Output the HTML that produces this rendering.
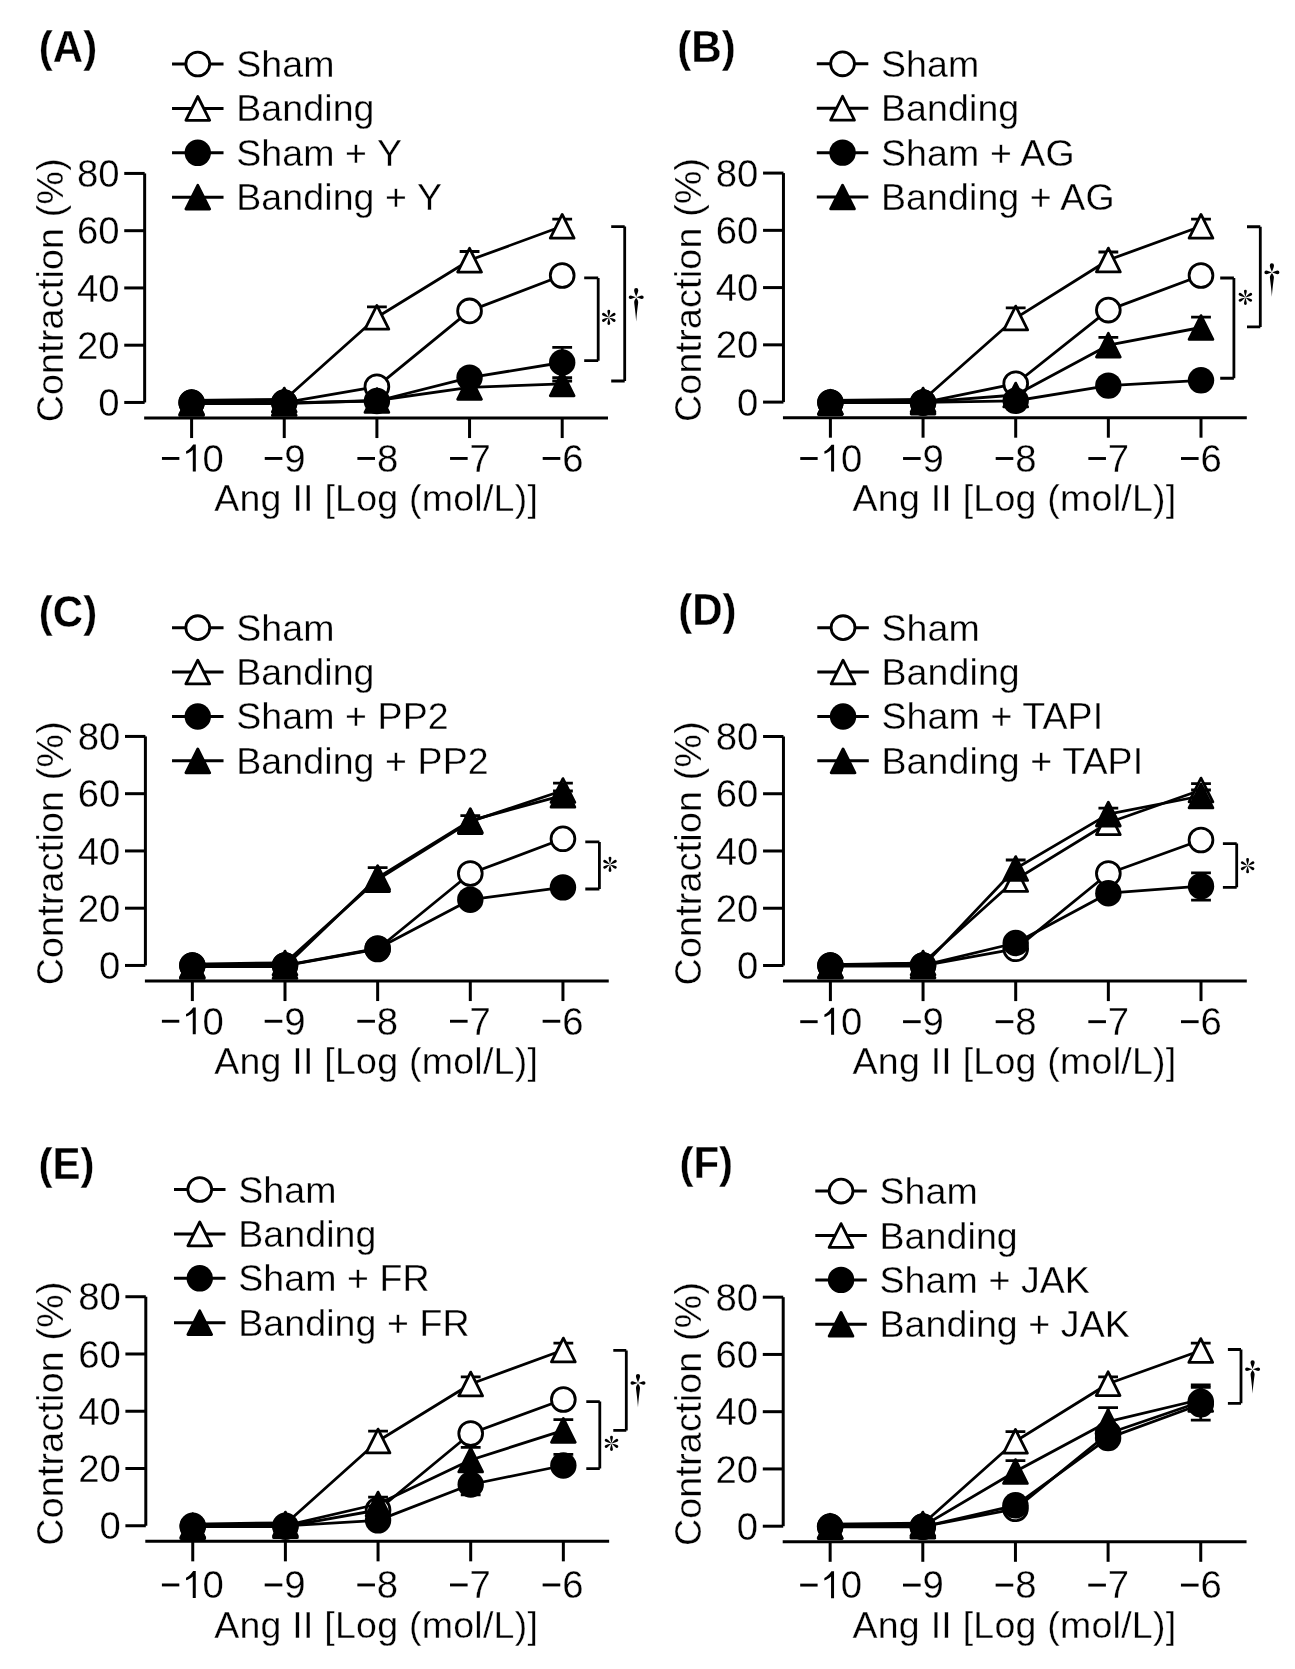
<!DOCTYPE html>
<html><head><meta charset="utf-8"><style>
html,body{margin:0;padding:0;background:#fff;}
body{width:1295px;height:1669px;overflow:hidden;}
svg{display:block;will-change:transform;}
text{font-family:"Liberation Sans",sans-serif;stroke:#fff;stroke-width:0.3px;}
</style></head><body>
<svg width="1295" height="1669" viewBox="0 0 1295 1669">
<rect width="1295" height="1669" fill="#fff"/>
<text transform="translate(38.8 61.5) scale(0.955 1)" font-weight="bold" font-size="44">(A)</text>
<path d="M172.03 64H223.53" stroke="#000" stroke-width="3"/>
<circle cx="197.78" cy="64" r="11.9" fill="#fff" stroke="#000" stroke-width="2.8"/>
<text x="236.23" y="77" font-size="37.5" letter-spacing="0.1">Sham</text>
<path d="M172.03 108.4H223.53" stroke="#000" stroke-width="3"/>
<path d="M197.78 96.5L209.68 120.3L185.88 120.3Z" fill="#fff" stroke="#000" stroke-width="2.8" stroke-linejoin="round"/>
<text x="236.23" y="121.4" font-size="37.5" letter-spacing="0.1">Banding</text>
<path d="M172.03 152.8H223.53" stroke="#000" stroke-width="3"/>
<circle cx="197.78" cy="152.8" r="13.2"/>
<text x="236.23" y="165.8" font-size="37.5" letter-spacing="0.1">Sham + Y</text>
<path d="M172.03 197.2H223.53" stroke="#000" stroke-width="3"/>
<path d="M197.78 185.3L209.68 209.1L185.88 209.1Z" fill="#000" stroke="#000" stroke-width="2.8" stroke-linejoin="round"/>
<text x="236.23" y="210.2" font-size="37.5" letter-spacing="0.1">Banding + Y</text>
<g transform="translate(0 0)">
<path d="M144.65 173.43V402.45" stroke="#000" stroke-width="3"/>
<path d="M124.25 402.45H144.65" stroke="#000" stroke-width="3"/>
<text x="119.6" y="416.05" text-anchor="end" font-size="38.3">0</text>
<path d="M124.25 345.19H144.65" stroke="#000" stroke-width="3"/>
<text x="119.6" y="358.8" text-anchor="end" font-size="38.3">20</text>
<path d="M124.25 287.94H144.65" stroke="#000" stroke-width="3"/>
<text x="119.6" y="301.54" text-anchor="end" font-size="38.3">40</text>
<path d="M124.25 230.69H144.65" stroke="#000" stroke-width="3"/>
<text x="119.6" y="244.28" text-anchor="end" font-size="38.3">60</text>
<path d="M124.25 173.43H144.65" stroke="#000" stroke-width="3"/>
<text x="119.6" y="187.03" text-anchor="end" font-size="38.3">80</text>
<text transform="translate(63.4 290.2) rotate(-90)" text-anchor="middle" font-size="37.5" letter-spacing="0.25">Contraction (%)</text>
<path d="M144.15 418.05H608" stroke="#000" stroke-width="3"/>
<path d="M191.6 418.05V438.05" stroke="#000" stroke-width="3"/>
<path d="M284.25 418.05V438.05" stroke="#000" stroke-width="3"/>
<path d="M376.9 418.05V438.05" stroke="#000" stroke-width="3"/>
<path d="M469.55 418.05V438.05" stroke="#000" stroke-width="3"/>
<path d="M562.2 418.05V438.05" stroke="#000" stroke-width="3"/>
<g transform="translate(0 0)">
<rect x="161.95" y="457" width="17.4" height="2.9"/>
<path d="M195.8 444.6V471.55H192.8V449.9C191 451.5 188.5 453 186.1 453.8V451.3C189 449.8 191.3 447.5 193.2 444.6Z"/>
<text x="202.6" y="471.8" font-size="38.3">0</text>
<rect x="264.75" y="457" width="17.6" height="2.9"/>
<text x="284.25" y="471.8" font-size="38.3">9</text>
<rect x="357.4" y="457" width="17.6" height="2.9"/>
<text x="376.9" y="471.8" font-size="38.3">8</text>
<rect x="450.05" y="457" width="17.6" height="2.9"/>
<text x="469.55" y="471.8" font-size="38.3">7</text>
<rect x="542.7" y="457" width="17.6" height="2.9"/>
<text x="562.2" y="471.8" font-size="38.3">6</text>
<text x="376.2" y="511.2" text-anchor="middle" font-size="37.5" letter-spacing="0.25">Ang II [Log (mol/L)]</text>
</g>
</g>
<g transform="translate(0 0)">
<path d="M191.6 400.3L284.25 399.4" stroke="#000" stroke-width="2.8"/>
<polyline points="191.6,402.6 284.25,402.6 376.9,386.7 469.55,310.9 562.2,275.5" fill="none" stroke="#000" stroke-width="2.8" stroke-linejoin="round"/>
<circle cx="191.6" cy="402.6" r="11.9" fill="#fff" stroke="#000" stroke-width="2.8"/>
<circle cx="284.25" cy="402.6" r="11.9" fill="#fff" stroke="#000" stroke-width="2.8"/>
<circle cx="376.9" cy="386.7" r="11.9" fill="#fff" stroke="#000" stroke-width="2.8"/>
<circle cx="469.55" cy="310.9" r="11.9" fill="#fff" stroke="#000" stroke-width="2.8"/>
<circle cx="562.2" cy="275.5" r="11.9" fill="#fff" stroke="#000" stroke-width="2.8"/>
<polyline points="191.6,402.6 284.25,400 376.9,317.3 469.55,260.2 562.2,226.3" fill="none" stroke="#000" stroke-width="2.8" stroke-linejoin="round"/>
<path d="M376.9 317.3V306.8 M367 306.8H386.8" stroke="#000" stroke-width="2.8" fill="none"/>
<path d="M469.55 260.2V251.5 M459.65 251.5H479.45" stroke="#000" stroke-width="2.8" fill="none"/>
<path d="M562.2 226.3V219.2 M552.3 219.2H572.1" stroke="#000" stroke-width="2.8" fill="none"/>
<path d="M191.6 390.7L203.5 414.5L179.7 414.5Z" fill="#fff" stroke="#000" stroke-width="2.8" stroke-linejoin="round"/>
<path d="M284.25 388.1L296.15 411.9L272.35 411.9Z" fill="#fff" stroke="#000" stroke-width="2.8" stroke-linejoin="round"/>
<path d="M376.9 305.4L388.8 329.2L365 329.2Z" fill="#fff" stroke="#000" stroke-width="2.8" stroke-linejoin="round"/>
<path d="M469.55 248.3L481.45 272.1L457.65 272.1Z" fill="#fff" stroke="#000" stroke-width="2.8" stroke-linejoin="round"/>
<path d="M562.2 214.4L574.1 238.2L550.3 238.2Z" fill="#fff" stroke="#000" stroke-width="2.8" stroke-linejoin="round"/>
<polyline points="191.6,402.8 284.25,402.8 376.9,401 469.55,377.6 562.2,362.5" fill="none" stroke="#000" stroke-width="2.8" stroke-linejoin="round"/>
<path d="M562.2 362.5V347.4 M552.3 347.4H572.1" stroke="#000" stroke-width="2.8" fill="none"/>
<path d="M562.2 362.5V377.6 M552.3 377.6H572.1" stroke="#000" stroke-width="2.8" fill="none"/>
<circle cx="191.6" cy="402.8" r="13.2"/>
<circle cx="284.25" cy="402.8" r="13.2"/>
<circle cx="376.9" cy="401" r="13.2"/>
<circle cx="469.55" cy="377.6" r="13.2"/>
<circle cx="562.2" cy="362.5" r="13.2"/>
<polyline points="191.6,403.5 284.25,403.5 376.9,400.5 469.55,387.4 562.2,383.9" fill="none" stroke="#000" stroke-width="2.8" stroke-linejoin="round"/>
<path d="M562.2 383.9V381 M552.3 381H572.1" stroke="#000" stroke-width="2.8" fill="none"/>
<path d="M191.6 391.6L203.5 415.4L179.7 415.4Z" fill="#000" stroke="#000" stroke-width="2.8" stroke-linejoin="round"/>
<path d="M284.25 391.6L296.15 415.4L272.35 415.4Z" fill="#000" stroke="#000" stroke-width="2.8" stroke-linejoin="round"/>
<path d="M376.9 388.6L388.8 412.4L365 412.4Z" fill="#000" stroke="#000" stroke-width="2.8" stroke-linejoin="round"/>
<path d="M469.55 375.5L481.45 399.3L457.65 399.3Z" fill="#000" stroke="#000" stroke-width="2.8" stroke-linejoin="round"/>
<path d="M562.2 372L574.1 395.8L550.3 395.8Z" fill="#000" stroke="#000" stroke-width="2.8" stroke-linejoin="round"/>
</g>
<g transform="translate(0 0)">
<path d="M584.2 277.9H598.2 M598.2 277.9V360.7 M584.2 360.7H598.2" fill="none" stroke="#000" stroke-width="2.8"/>
<g transform="translate(608.8 317.4)"><path transform="rotate(0)" d="M0 -0.2C-0.5 -2.2 -1.4 -4.6 -1.4 -6.2A1.4 1.4 0 0 1 1.4 -6.2C1.4 -4.6 0.5 -2.2 0 -0.2Z"/><path transform="rotate(60)" d="M0 -0.2C-0.5 -2.2 -1.4 -4.6 -1.4 -6.2A1.4 1.4 0 0 1 1.4 -6.2C1.4 -4.6 0.5 -2.2 0 -0.2Z"/><path transform="rotate(120)" d="M0 -0.2C-0.5 -2.2 -1.4 -4.6 -1.4 -6.2A1.4 1.4 0 0 1 1.4 -6.2C1.4 -4.6 0.5 -2.2 0 -0.2Z"/><path transform="rotate(180)" d="M0 -0.2C-0.5 -2.2 -1.4 -4.6 -1.4 -6.2A1.4 1.4 0 0 1 1.4 -6.2C1.4 -4.6 0.5 -2.2 0 -0.2Z"/><path transform="rotate(240)" d="M0 -0.2C-0.5 -2.2 -1.4 -4.6 -1.4 -6.2A1.4 1.4 0 0 1 1.4 -6.2C1.4 -4.6 0.5 -2.2 0 -0.2Z"/><path transform="rotate(300)" d="M0 -0.2C-0.5 -2.2 -1.4 -4.6 -1.4 -6.2A1.4 1.4 0 0 1 1.4 -6.2C1.4 -4.6 0.5 -2.2 0 -0.2Z"/></g>
<path d="M611.2 226.6H624.7 M624.7 226.6V381 M611.2 381H624.7" fill="none" stroke="#000" stroke-width="2.8"/>
<g transform="translate(636.2 297.2)"><path d="M0 -0.3C-0.6 -2.5 -2.1 -5.2 -2.1 -7.0A2.1 2.1 0 0 1 2.1 -7.0C2.1 -5.2 0.6 -2.5 0 -0.3Z"/><path transform="rotate(90)" d="M0 -0.3C-0.5 -2.2 -1.8 -4.3 -1.8 -5.7A1.8 1.8 0 0 1 1.8 -5.7C1.8 -4.3 0.5 -2.2 0 -0.3Z"/><path transform="rotate(-90)" d="M0 -0.3C-0.5 -2.2 -1.8 -4.3 -1.8 -5.7A1.8 1.8 0 0 1 1.8 -5.7C1.8 -4.3 0.5 -2.2 0 -0.3Z"/><path d="M0 0.6C-1.2 2.2 -2.1 3.6 -2.0 5.2C-1.7 8.5 -0.4 17 0 24.5C0.4 17 1.7 8.5 2.0 5.2C2.1 3.6 1.2 2.2 0 0.6Z"/></g>
</g>
<text transform="translate(677.3 61.5) scale(0.955 1)" font-weight="bold" font-size="44">(B)</text>
<path d="M816.8 63.83H868.3" stroke="#000" stroke-width="3"/>
<circle cx="842.55" cy="63.83" r="11.9" fill="#fff" stroke="#000" stroke-width="2.8"/>
<text x="881" y="76.83" font-size="37.5" letter-spacing="0.1">Sham</text>
<path d="M816.8 108.23H868.3" stroke="#000" stroke-width="3"/>
<path d="M842.55 96.33L854.45 120.13L830.65 120.13Z" fill="#fff" stroke="#000" stroke-width="2.8" stroke-linejoin="round"/>
<text x="881" y="121.23" font-size="37.5" letter-spacing="0.1">Banding</text>
<path d="M816.8 152.63H868.3" stroke="#000" stroke-width="3"/>
<circle cx="842.55" cy="152.63" r="13.2"/>
<text x="881" y="165.63" font-size="37.5" letter-spacing="0.1">Sham + AG</text>
<path d="M816.8 197.03H868.3" stroke="#000" stroke-width="3"/>
<path d="M842.55 185.13L854.45 208.93L830.65 208.93Z" fill="#000" stroke="#000" stroke-width="2.8" stroke-linejoin="round"/>
<text x="881" y="210.03" font-size="37.5" letter-spacing="0.1">Banding + AG</text>
<g transform="translate(638.8 -0.35)">
<path d="M144.65 173.43V402.45" stroke="#000" stroke-width="3"/>
<path d="M124.25 402.45H144.65" stroke="#000" stroke-width="3"/>
<text x="119.6" y="416.05" text-anchor="end" font-size="38.3">0</text>
<path d="M124.25 345.19H144.65" stroke="#000" stroke-width="3"/>
<text x="119.6" y="358.8" text-anchor="end" font-size="38.3">20</text>
<path d="M124.25 287.94H144.65" stroke="#000" stroke-width="3"/>
<text x="119.6" y="301.54" text-anchor="end" font-size="38.3">40</text>
<path d="M124.25 230.69H144.65" stroke="#000" stroke-width="3"/>
<text x="119.6" y="244.28" text-anchor="end" font-size="38.3">60</text>
<path d="M124.25 173.43H144.65" stroke="#000" stroke-width="3"/>
<text x="119.6" y="187.03" text-anchor="end" font-size="38.3">80</text>
<text transform="translate(62.4 290.2) rotate(-90)" text-anchor="middle" font-size="37.5" letter-spacing="0.25">Contraction (%)</text>
<path d="M144.15 418.05H608" stroke="#000" stroke-width="3"/>
<path d="M191.6 418.05V438.05" stroke="#000" stroke-width="3"/>
<path d="M284.25 418.05V438.05" stroke="#000" stroke-width="3"/>
<path d="M376.9 418.05V438.05" stroke="#000" stroke-width="3"/>
<path d="M469.55 418.05V438.05" stroke="#000" stroke-width="3"/>
<path d="M562.2 418.05V438.05" stroke="#000" stroke-width="3"/>
<g transform="translate(-0.5 0.4)">
<rect x="161.95" y="457" width="17.4" height="2.9"/>
<path d="M195.8 444.6V471.55H192.8V449.9C191 451.5 188.5 453 186.1 453.8V451.3C189 449.8 191.3 447.5 193.2 444.6Z"/>
<text x="202.6" y="471.8" font-size="38.3">0</text>
<rect x="264.75" y="457" width="17.6" height="2.9"/>
<text x="284.25" y="471.8" font-size="38.3">9</text>
<rect x="357.4" y="457" width="17.6" height="2.9"/>
<text x="376.9" y="471.8" font-size="38.3">8</text>
<rect x="450.05" y="457" width="17.6" height="2.9"/>
<text x="469.55" y="471.8" font-size="38.3">7</text>
<rect x="542.7" y="457" width="17.6" height="2.9"/>
<text x="562.2" y="471.8" font-size="38.3">6</text>
<text x="376.2" y="511.2" text-anchor="middle" font-size="37.5" letter-spacing="0.25">Ang II [Log (mol/L)]</text>
</g>
</g>
<g transform="translate(0 0)">
<path d="M830.4 400.3L923.05 399.4" stroke="#000" stroke-width="2.8"/>
<polyline points="830.4,402.6 923.05,402.6 1015.7,383.7 1108.35,310.1 1201,275.5" fill="none" stroke="#000" stroke-width="2.8" stroke-linejoin="round"/>
<circle cx="830.4" cy="402.6" r="11.9" fill="#fff" stroke="#000" stroke-width="2.8"/>
<circle cx="923.05" cy="402.6" r="11.9" fill="#fff" stroke="#000" stroke-width="2.8"/>
<circle cx="1015.7" cy="383.7" r="11.9" fill="#fff" stroke="#000" stroke-width="2.8"/>
<circle cx="1108.35" cy="310.1" r="11.9" fill="#fff" stroke="#000" stroke-width="2.8"/>
<circle cx="1201" cy="275.5" r="11.9" fill="#fff" stroke="#000" stroke-width="2.8"/>
<polyline points="830.4,402.6 923.05,400 1015.7,318 1108.35,260 1201,226.3" fill="none" stroke="#000" stroke-width="2.8" stroke-linejoin="round"/>
<path d="M1015.7 318V307.8 M1005.8 307.8H1025.6" stroke="#000" stroke-width="2.8" fill="none"/>
<path d="M1108.35 260V252 M1098.45 252H1118.25" stroke="#000" stroke-width="2.8" fill="none"/>
<path d="M1201 226.3V219.2 M1191.1 219.2H1210.9" stroke="#000" stroke-width="2.8" fill="none"/>
<path d="M830.4 390.7L842.3 414.5L818.5 414.5Z" fill="#fff" stroke="#000" stroke-width="2.8" stroke-linejoin="round"/>
<path d="M923.05 388.1L934.95 411.9L911.15 411.9Z" fill="#fff" stroke="#000" stroke-width="2.8" stroke-linejoin="round"/>
<path d="M1015.7 306.1L1027.6 329.9L1003.8 329.9Z" fill="#fff" stroke="#000" stroke-width="2.8" stroke-linejoin="round"/>
<path d="M1108.35 248.1L1120.25 271.9L1096.45 271.9Z" fill="#fff" stroke="#000" stroke-width="2.8" stroke-linejoin="round"/>
<path d="M1201 214.4L1212.9 238.2L1189.1 238.2Z" fill="#fff" stroke="#000" stroke-width="2.8" stroke-linejoin="round"/>
<polyline points="830.4,402.4 923.05,402.4 1015.7,400.8 1108.35,385.6 1201,380.3" fill="none" stroke="#000" stroke-width="2.8" stroke-linejoin="round"/>
<circle cx="830.4" cy="402.4" r="13.2"/>
<circle cx="923.05" cy="402.4" r="13.2"/>
<circle cx="1015.7" cy="400.8" r="13.2"/>
<circle cx="1108.35" cy="385.6" r="13.2"/>
<circle cx="1201" cy="380.3" r="13.2"/>
<polyline points="830.4,402.1 923.05,402.1 1015.7,395 1108.35,345.2 1201,327.5" fill="none" stroke="#000" stroke-width="2.8" stroke-linejoin="round"/>
<path d="M1108.35 345.2V337.3 M1098.45 337.3H1118.25" stroke="#000" stroke-width="2.8" fill="none"/>
<path d="M1201 327.5V317.2 M1191.1 317.2H1210.9" stroke="#000" stroke-width="2.8" fill="none"/>
<path d="M830.4 390.2L842.3 414L818.5 414Z" fill="#000" stroke="#000" stroke-width="2.8" stroke-linejoin="round"/>
<path d="M923.05 390.2L934.95 414L911.15 414Z" fill="#000" stroke="#000" stroke-width="2.8" stroke-linejoin="round"/>
<path d="M1015.7 383.1L1027.6 406.9L1003.8 406.9Z" fill="#000" stroke="#000" stroke-width="2.8" stroke-linejoin="round"/>
<path d="M1108.35 333.3L1120.25 357.1L1096.45 357.1Z" fill="#000" stroke="#000" stroke-width="2.8" stroke-linejoin="round"/>
<path d="M1201 315.6L1212.9 339.4L1189.1 339.4Z" fill="#000" stroke="#000" stroke-width="2.8" stroke-linejoin="round"/>
</g>
<g transform="translate(638.4 0)">
<path d="M581.8 278H595.5 M595.5 278V378.25 M581.8 378.25H595.5" fill="none" stroke="#000" stroke-width="2.8"/>
<g transform="translate(607 297.3)"><path transform="rotate(0)" d="M0 -0.2C-0.5 -2.2 -1.4 -4.6 -1.4 -6.2A1.4 1.4 0 0 1 1.4 -6.2C1.4 -4.6 0.5 -2.2 0 -0.2Z"/><path transform="rotate(60)" d="M0 -0.2C-0.5 -2.2 -1.4 -4.6 -1.4 -6.2A1.4 1.4 0 0 1 1.4 -6.2C1.4 -4.6 0.5 -2.2 0 -0.2Z"/><path transform="rotate(120)" d="M0 -0.2C-0.5 -2.2 -1.4 -4.6 -1.4 -6.2A1.4 1.4 0 0 1 1.4 -6.2C1.4 -4.6 0.5 -2.2 0 -0.2Z"/><path transform="rotate(180)" d="M0 -0.2C-0.5 -2.2 -1.4 -4.6 -1.4 -6.2A1.4 1.4 0 0 1 1.4 -6.2C1.4 -4.6 0.5 -2.2 0 -0.2Z"/><path transform="rotate(240)" d="M0 -0.2C-0.5 -2.2 -1.4 -4.6 -1.4 -6.2A1.4 1.4 0 0 1 1.4 -6.2C1.4 -4.6 0.5 -2.2 0 -0.2Z"/><path transform="rotate(300)" d="M0 -0.2C-0.5 -2.2 -1.4 -4.6 -1.4 -6.2A1.4 1.4 0 0 1 1.4 -6.2C1.4 -4.6 0.5 -2.2 0 -0.2Z"/></g>
<path d="M608.6 226.75H621.9 M621.9 226.75V326.9 M608.6 326.9H621.9" fill="none" stroke="#000" stroke-width="2.8"/>
<g transform="translate(633.5 272.4)"><path d="M0 -0.3C-0.6 -2.5 -2.1 -5.2 -2.1 -7.0A2.1 2.1 0 0 1 2.1 -7.0C2.1 -5.2 0.6 -2.5 0 -0.3Z"/><path transform="rotate(90)" d="M0 -0.3C-0.5 -2.2 -1.8 -4.3 -1.8 -5.7A1.8 1.8 0 0 1 1.8 -5.7C1.8 -4.3 0.5 -2.2 0 -0.3Z"/><path transform="rotate(-90)" d="M0 -0.3C-0.5 -2.2 -1.8 -4.3 -1.8 -5.7A1.8 1.8 0 0 1 1.8 -5.7C1.8 -4.3 0.5 -2.2 0 -0.3Z"/><path d="M0 0.6C-1.2 2.2 -2.1 3.6 -2.0 5.2C-1.7 8.5 -0.4 17 0 24.5C0.4 17 1.7 8.5 2.0 5.2C2.1 3.6 1.2 2.2 0 0.6Z"/></g>
</g>
<text transform="translate(38.8 626.5) scale(0.955 1)" font-weight="bold" font-size="44">(C)</text>
<path d="M172.03 627.67H223.53" stroke="#000" stroke-width="3"/>
<circle cx="197.78" cy="627.67" r="11.9" fill="#fff" stroke="#000" stroke-width="2.8"/>
<text x="236.23" y="640.67" font-size="37.5" letter-spacing="0.1">Sham</text>
<path d="M172.03 672.07H223.53" stroke="#000" stroke-width="3"/>
<path d="M197.78 660.17L209.68 683.97L185.88 683.97Z" fill="#fff" stroke="#000" stroke-width="2.8" stroke-linejoin="round"/>
<text x="236.23" y="685.07" font-size="37.5" letter-spacing="0.1">Banding</text>
<path d="M172.03 716.47H223.53" stroke="#000" stroke-width="3"/>
<circle cx="197.78" cy="716.47" r="13.2"/>
<text x="236.23" y="729.47" font-size="37.5" letter-spacing="0.1">Sham + PP2</text>
<path d="M172.03 760.87H223.53" stroke="#000" stroke-width="3"/>
<path d="M197.78 748.97L209.68 772.77L185.88 772.77Z" fill="#000" stroke="#000" stroke-width="2.8" stroke-linejoin="round"/>
<text x="236.23" y="773.87" font-size="37.5" letter-spacing="0.1">Banding + PP2</text>
<g transform="translate(0.75 563)">
<path d="M144.65 173.43V402.45" stroke="#000" stroke-width="3"/>
<path d="M124.25 402.45H144.65" stroke="#000" stroke-width="3"/>
<text x="119.6" y="416.05" text-anchor="end" font-size="38.3">0</text>
<path d="M124.25 345.19H144.65" stroke="#000" stroke-width="3"/>
<text x="119.6" y="358.8" text-anchor="end" font-size="38.3">20</text>
<path d="M124.25 287.94H144.65" stroke="#000" stroke-width="3"/>
<text x="119.6" y="301.54" text-anchor="end" font-size="38.3">40</text>
<path d="M124.25 230.69H144.65" stroke="#000" stroke-width="3"/>
<text x="119.6" y="244.28" text-anchor="end" font-size="38.3">60</text>
<path d="M124.25 173.43H144.65" stroke="#000" stroke-width="3"/>
<text x="119.6" y="187.03" text-anchor="end" font-size="38.3">80</text>
<text transform="translate(62.4 290.2) rotate(-90)" text-anchor="middle" font-size="37.5" letter-spacing="0.25">Contraction (%)</text>
<path d="M144.15 418.05H608" stroke="#000" stroke-width="3"/>
<path d="M191.6 418.05V438.05" stroke="#000" stroke-width="3"/>
<path d="M284.25 418.05V438.05" stroke="#000" stroke-width="3"/>
<path d="M376.9 418.05V438.05" stroke="#000" stroke-width="3"/>
<path d="M469.55 418.05V438.05" stroke="#000" stroke-width="3"/>
<path d="M562.2 418.05V438.05" stroke="#000" stroke-width="3"/>
<g transform="translate(-0.8 -0.2)">
<rect x="161.95" y="457" width="17.4" height="2.9"/>
<path d="M195.8 444.6V471.55H192.8V449.9C191 451.5 188.5 453 186.1 453.8V451.3C189 449.8 191.3 447.5 193.2 444.6Z"/>
<text x="202.6" y="471.8" font-size="38.3">0</text>
<rect x="264.75" y="457" width="17.6" height="2.9"/>
<text x="284.25" y="471.8" font-size="38.3">9</text>
<rect x="357.4" y="457" width="17.6" height="2.9"/>
<text x="376.9" y="471.8" font-size="38.3">8</text>
<rect x="450.05" y="457" width="17.6" height="2.9"/>
<text x="469.55" y="471.8" font-size="38.3">7</text>
<rect x="542.7" y="457" width="17.6" height="2.9"/>
<text x="562.2" y="471.8" font-size="38.3">6</text>
<text x="376.2" y="511.2" text-anchor="middle" font-size="37.5" letter-spacing="0.25">Ang II [Log (mol/L)]</text>
</g>
</g>
<g transform="translate(0 563)">
<path d="M192.35 401.2L285 399.8" stroke="#000" stroke-width="2.8"/>
<polyline points="192.35,402.6 285,402.6 377.65,386 470.3,310.5 562.95,275.8" fill="none" stroke="#000" stroke-width="2.8" stroke-linejoin="round"/>
<circle cx="192.35" cy="402.6" r="11.9" fill="#fff" stroke="#000" stroke-width="2.8"/>
<circle cx="285" cy="402.6" r="11.9" fill="#fff" stroke="#000" stroke-width="2.8"/>
<circle cx="377.65" cy="386" r="11.9" fill="#fff" stroke="#000" stroke-width="2.8"/>
<circle cx="470.3" cy="310.5" r="11.9" fill="#fff" stroke="#000" stroke-width="2.8"/>
<circle cx="562.95" cy="275.8" r="11.9" fill="#fff" stroke="#000" stroke-width="2.8"/>
<polyline points="192.35,402.6 285,400 377.65,316.6 470.3,258.6 562.95,227.5" fill="none" stroke="#000" stroke-width="2.8" stroke-linejoin="round"/>
<path d="M377.65 316.6V304.7 M367.75 304.7H387.55" stroke="#000" stroke-width="2.8" fill="none"/>
<path d="M470.3 258.6V252.6 M460.4 252.6H480.2" stroke="#000" stroke-width="2.8" fill="none"/>
<path d="M562.95 227.5V220.2 M553.05 220.2H572.85" stroke="#000" stroke-width="2.8" fill="none"/>
<path d="M192.35 390.7L204.25 414.5L180.45 414.5Z" fill="#fff" stroke="#000" stroke-width="2.8" stroke-linejoin="round"/>
<path d="M285 388.1L296.9 411.9L273.1 411.9Z" fill="#fff" stroke="#000" stroke-width="2.8" stroke-linejoin="round"/>
<path d="M377.65 304.7L389.55 328.5L365.75 328.5Z" fill="#fff" stroke="#000" stroke-width="2.8" stroke-linejoin="round"/>
<path d="M470.3 246.7L482.2 270.5L458.4 270.5Z" fill="#fff" stroke="#000" stroke-width="2.8" stroke-linejoin="round"/>
<path d="M562.95 215.6L574.85 239.4L551.05 239.4Z" fill="#fff" stroke="#000" stroke-width="2.8" stroke-linejoin="round"/>
<polyline points="192.35,402.4 285,402.4 377.65,385.5 470.3,336.7 562.95,324.4" fill="none" stroke="#000" stroke-width="2.8" stroke-linejoin="round"/>
<circle cx="192.35" cy="402.4" r="13.2"/>
<circle cx="285" cy="402.4" r="13.2"/>
<circle cx="377.65" cy="385.5" r="13.2"/>
<circle cx="470.3" cy="336.7" r="13.2"/>
<circle cx="562.95" cy="324.4" r="13.2"/>
<polyline points="192.35,403.5 285,403.5 377.65,314.6 470.3,257.6 562.95,232.3" fill="none" stroke="#000" stroke-width="2.8" stroke-linejoin="round"/>
<path d="M562.95 232.3V228 M553.05 228H572.85" stroke="#000" stroke-width="2.8" fill="none"/>
<path d="M192.35 391.6L204.25 415.4L180.45 415.4Z" fill="#000" stroke="#000" stroke-width="2.8" stroke-linejoin="round"/>
<path d="M285 391.6L296.9 415.4L273.1 415.4Z" fill="#000" stroke="#000" stroke-width="2.8" stroke-linejoin="round"/>
<path d="M377.65 302.7L389.55 326.5L365.75 326.5Z" fill="#000" stroke="#000" stroke-width="2.8" stroke-linejoin="round"/>
<path d="M470.3 245.7L482.2 269.5L458.4 269.5Z" fill="#000" stroke="#000" stroke-width="2.8" stroke-linejoin="round"/>
<path d="M562.95 220.4L574.85 244.2L551.05 244.2Z" fill="#000" stroke="#000" stroke-width="2.8" stroke-linejoin="round"/>
</g>
<g transform="translate(0 563)">
<path d="M585.3 278.9H599.4 M599.4 278.9V326 M585.3 326H599.4" fill="none" stroke="#000" stroke-width="2.8"/>
<g transform="translate(610 301.3)"><path transform="rotate(0)" d="M0 -0.2C-0.5 -2.2 -1.4 -4.6 -1.4 -6.2A1.4 1.4 0 0 1 1.4 -6.2C1.4 -4.6 0.5 -2.2 0 -0.2Z"/><path transform="rotate(60)" d="M0 -0.2C-0.5 -2.2 -1.4 -4.6 -1.4 -6.2A1.4 1.4 0 0 1 1.4 -6.2C1.4 -4.6 0.5 -2.2 0 -0.2Z"/><path transform="rotate(120)" d="M0 -0.2C-0.5 -2.2 -1.4 -4.6 -1.4 -6.2A1.4 1.4 0 0 1 1.4 -6.2C1.4 -4.6 0.5 -2.2 0 -0.2Z"/><path transform="rotate(180)" d="M0 -0.2C-0.5 -2.2 -1.4 -4.6 -1.4 -6.2A1.4 1.4 0 0 1 1.4 -6.2C1.4 -4.6 0.5 -2.2 0 -0.2Z"/><path transform="rotate(240)" d="M0 -0.2C-0.5 -2.2 -1.4 -4.6 -1.4 -6.2A1.4 1.4 0 0 1 1.4 -6.2C1.4 -4.6 0.5 -2.2 0 -0.2Z"/><path transform="rotate(300)" d="M0 -0.2C-0.5 -2.2 -1.4 -4.6 -1.4 -6.2A1.4 1.4 0 0 1 1.4 -6.2C1.4 -4.6 0.5 -2.2 0 -0.2Z"/></g>
</g>
<text transform="translate(678.2 624.9) scale(0.955 1)" font-weight="bold" font-size="44">(D)</text>
<path d="M817.3 627.67H868.8" stroke="#000" stroke-width="3"/>
<circle cx="843.05" cy="627.67" r="11.9" fill="#fff" stroke="#000" stroke-width="2.8"/>
<text x="881.5" y="640.67" font-size="37.5" letter-spacing="0.1">Sham</text>
<path d="M817.3 672.07H868.8" stroke="#000" stroke-width="3"/>
<path d="M843.05 660.17L854.95 683.97L831.15 683.97Z" fill="#fff" stroke="#000" stroke-width="2.8" stroke-linejoin="round"/>
<text x="881.5" y="685.07" font-size="37.5" letter-spacing="0.1">Banding</text>
<path d="M817.3 716.47H868.8" stroke="#000" stroke-width="3"/>
<circle cx="843.05" cy="716.47" r="13.2"/>
<text x="881.5" y="729.47" font-size="37.5" letter-spacing="0.1">Sham + TAPI</text>
<path d="M817.3 760.87H868.8" stroke="#000" stroke-width="3"/>
<path d="M843.05 748.97L854.95 772.77L831.15 772.77Z" fill="#000" stroke="#000" stroke-width="2.8" stroke-linejoin="round"/>
<text x="881.5" y="773.87" font-size="37.5" letter-spacing="0.1">Banding + TAPI</text>
<g transform="translate(638.8 563.05)">
<path d="M144.65 173.43V402.45" stroke="#000" stroke-width="3"/>
<path d="M124.25 402.45H144.65" stroke="#000" stroke-width="3"/>
<text x="119.6" y="416.05" text-anchor="end" font-size="38.3">0</text>
<path d="M124.25 345.19H144.65" stroke="#000" stroke-width="3"/>
<text x="119.6" y="358.8" text-anchor="end" font-size="38.3">20</text>
<path d="M124.25 287.94H144.65" stroke="#000" stroke-width="3"/>
<text x="119.6" y="301.54" text-anchor="end" font-size="38.3">40</text>
<path d="M124.25 230.69H144.65" stroke="#000" stroke-width="3"/>
<text x="119.6" y="244.28" text-anchor="end" font-size="38.3">60</text>
<path d="M124.25 173.43H144.65" stroke="#000" stroke-width="3"/>
<text x="119.6" y="187.03" text-anchor="end" font-size="38.3">80</text>
<text transform="translate(62.4 290.2) rotate(-90)" text-anchor="middle" font-size="37.5" letter-spacing="0.25">Contraction (%)</text>
<path d="M144.15 418.05H608" stroke="#000" stroke-width="3"/>
<path d="M191.6 418.05V438.05" stroke="#000" stroke-width="3"/>
<path d="M284.25 418.05V438.05" stroke="#000" stroke-width="3"/>
<path d="M376.9 418.05V438.05" stroke="#000" stroke-width="3"/>
<path d="M469.55 418.05V438.05" stroke="#000" stroke-width="3"/>
<path d="M562.2 418.05V438.05" stroke="#000" stroke-width="3"/>
<g transform="translate(-0.5 0.2)">
<rect x="161.95" y="457" width="17.4" height="2.9"/>
<path d="M195.8 444.6V471.55H192.8V449.9C191 451.5 188.5 453 186.1 453.8V451.3C189 449.8 191.3 447.5 193.2 444.6Z"/>
<text x="202.6" y="471.8" font-size="38.3">0</text>
<rect x="264.75" y="457" width="17.6" height="2.9"/>
<text x="284.25" y="471.8" font-size="38.3">9</text>
<rect x="357.4" y="457" width="17.6" height="2.9"/>
<text x="376.9" y="471.8" font-size="38.3">8</text>
<rect x="450.05" y="457" width="17.6" height="2.9"/>
<text x="469.55" y="471.8" font-size="38.3">7</text>
<rect x="542.7" y="457" width="17.6" height="2.9"/>
<text x="562.2" y="471.8" font-size="38.3">6</text>
<text x="376.2" y="511.2" text-anchor="middle" font-size="37.5" letter-spacing="0.25">Ang II [Log (mol/L)]</text>
</g>
</g>
<g transform="translate(0 563)">
<path d="M830.4 401.7L923.05 400.1" stroke="#000" stroke-width="2.8"/>
<polyline points="830.4,402.6 923.05,402.6 1015.7,385.8 1108.35,310.5 1201,277" fill="none" stroke="#000" stroke-width="2.8" stroke-linejoin="round"/>
<circle cx="830.4" cy="402.6" r="11.9" fill="#fff" stroke="#000" stroke-width="2.8"/>
<circle cx="923.05" cy="402.6" r="11.9" fill="#fff" stroke="#000" stroke-width="2.8"/>
<circle cx="1015.7" cy="385.8" r="11.9" fill="#fff" stroke="#000" stroke-width="2.8"/>
<circle cx="1108.35" cy="310.5" r="11.9" fill="#fff" stroke="#000" stroke-width="2.8"/>
<circle cx="1201" cy="277" r="11.9" fill="#fff" stroke="#000" stroke-width="2.8"/>
<polyline points="830.4,402.6 923.05,400 1015.7,316.5 1108.35,259.8 1201,227" fill="none" stroke="#000" stroke-width="2.8" stroke-linejoin="round"/>
<path d="M1201 227V220.6 M1191.1 220.6H1210.9" stroke="#000" stroke-width="2.8" fill="none"/>
<path d="M830.4 390.7L842.3 414.5L818.5 414.5Z" fill="#fff" stroke="#000" stroke-width="2.8" stroke-linejoin="round"/>
<path d="M923.05 388.1L934.95 411.9L911.15 411.9Z" fill="#fff" stroke="#000" stroke-width="2.8" stroke-linejoin="round"/>
<path d="M1015.7 304.6L1027.6 328.4L1003.8 328.4Z" fill="#fff" stroke="#000" stroke-width="2.8" stroke-linejoin="round"/>
<path d="M1108.35 247.9L1120.25 271.7L1096.45 271.7Z" fill="#fff" stroke="#000" stroke-width="2.8" stroke-linejoin="round"/>
<path d="M1201 215.1L1212.9 238.9L1189.1 238.9Z" fill="#fff" stroke="#000" stroke-width="2.8" stroke-linejoin="round"/>
<polyline points="830.4,402.4 923.05,402.4 1015.7,380 1108.35,330.2 1201,323.2" fill="none" stroke="#000" stroke-width="2.8" stroke-linejoin="round"/>
<path d="M1201 323.2V309.8 M1191.1 309.8H1210.9" stroke="#000" stroke-width="2.8" fill="none"/>
<path d="M1201 323.2V337.1 M1191.1 337.1H1210.9" stroke="#000" stroke-width="2.8" fill="none"/>
<circle cx="830.4" cy="402.4" r="13.2"/>
<circle cx="923.05" cy="402.4" r="13.2"/>
<circle cx="1015.7" cy="380" r="13.2"/>
<circle cx="1108.35" cy="330.2" r="13.2"/>
<circle cx="1201" cy="323.2" r="13.2"/>
<polyline points="830.4,403.1 923.05,403.1 1015.7,305.5 1108.35,251.1 1201,233" fill="none" stroke="#000" stroke-width="2.8" stroke-linejoin="round"/>
<path d="M1015.7 305.5V297 M1005.8 297H1025.6" stroke="#000" stroke-width="2.8" fill="none"/>
<path d="M1108.35 251.1V245.2 M1098.45 245.2H1118.25" stroke="#000" stroke-width="2.8" fill="none"/>
<path d="M1201 233V227 M1191.1 227H1210.9" stroke="#000" stroke-width="2.8" fill="none"/>
<path d="M830.4 391.2L842.3 415L818.5 415Z" fill="#000" stroke="#000" stroke-width="2.8" stroke-linejoin="round"/>
<path d="M923.05 391.2L934.95 415L911.15 415Z" fill="#000" stroke="#000" stroke-width="2.8" stroke-linejoin="round"/>
<path d="M1015.7 293.6L1027.6 317.4L1003.8 317.4Z" fill="#000" stroke="#000" stroke-width="2.8" stroke-linejoin="round"/>
<path d="M1108.35 239.2L1120.25 263L1096.45 263Z" fill="#000" stroke="#000" stroke-width="2.8" stroke-linejoin="round"/>
<path d="M1201 221.1L1212.9 244.9L1189.1 244.9Z" fill="#000" stroke="#000" stroke-width="2.8" stroke-linejoin="round"/>
</g>
<g transform="translate(638.4 563)">
<path d="M584.5 280.6H598.3 M598.3 280.6V324.3 M584.5 324.3H598.3" fill="none" stroke="#000" stroke-width="2.8"/>
<g transform="translate(609.2 302.7)"><path transform="rotate(0)" d="M0 -0.2C-0.5 -2.2 -1.4 -4.6 -1.4 -6.2A1.4 1.4 0 0 1 1.4 -6.2C1.4 -4.6 0.5 -2.2 0 -0.2Z"/><path transform="rotate(60)" d="M0 -0.2C-0.5 -2.2 -1.4 -4.6 -1.4 -6.2A1.4 1.4 0 0 1 1.4 -6.2C1.4 -4.6 0.5 -2.2 0 -0.2Z"/><path transform="rotate(120)" d="M0 -0.2C-0.5 -2.2 -1.4 -4.6 -1.4 -6.2A1.4 1.4 0 0 1 1.4 -6.2C1.4 -4.6 0.5 -2.2 0 -0.2Z"/><path transform="rotate(180)" d="M0 -0.2C-0.5 -2.2 -1.4 -4.6 -1.4 -6.2A1.4 1.4 0 0 1 1.4 -6.2C1.4 -4.6 0.5 -2.2 0 -0.2Z"/><path transform="rotate(240)" d="M0 -0.2C-0.5 -2.2 -1.4 -4.6 -1.4 -6.2A1.4 1.4 0 0 1 1.4 -6.2C1.4 -4.6 0.5 -2.2 0 -0.2Z"/><path transform="rotate(300)" d="M0 -0.2C-0.5 -2.2 -1.4 -4.6 -1.4 -6.2A1.4 1.4 0 0 1 1.4 -6.2C1.4 -4.6 0.5 -2.2 0 -0.2Z"/></g>
</g>
<text transform="translate(38.5 1178.9) scale(0.955 1)" font-weight="bold" font-size="44">(E)</text>
<path d="M174 1189.5H225.5" stroke="#000" stroke-width="3"/>
<circle cx="199.75" cy="1189.5" r="11.9" fill="#fff" stroke="#000" stroke-width="2.8"/>
<text x="238.2" y="1202.5" font-size="37.5" letter-spacing="0.1">Sham</text>
<path d="M174 1233.9H225.5" stroke="#000" stroke-width="3"/>
<path d="M199.75 1222L211.65 1245.8L187.85 1245.8Z" fill="#fff" stroke="#000" stroke-width="2.8" stroke-linejoin="round"/>
<text x="238.2" y="1246.9" font-size="37.5" letter-spacing="0.1">Banding</text>
<path d="M174 1278.3H225.5" stroke="#000" stroke-width="3"/>
<circle cx="199.75" cy="1278.3" r="13.2"/>
<text x="238.2" y="1291.3" font-size="37.5" letter-spacing="0.1">Sham + FR</text>
<path d="M174 1322.7H225.5" stroke="#000" stroke-width="3"/>
<path d="M199.75 1310.8L211.65 1334.6L187.85 1334.6Z" fill="#000" stroke="#000" stroke-width="2.8" stroke-linejoin="round"/>
<text x="238.2" y="1335.7" font-size="37.5" letter-spacing="0.1">Banding + FR</text>
<g transform="translate(1.15 1123.3)">
<path d="M144.65 173.43V402.45" stroke="#000" stroke-width="3"/>
<path d="M124.25 402.45H144.65" stroke="#000" stroke-width="3"/>
<text x="119.6" y="416.05" text-anchor="end" font-size="38.3">0</text>
<path d="M124.25 345.19H144.65" stroke="#000" stroke-width="3"/>
<text x="119.6" y="358.8" text-anchor="end" font-size="38.3">20</text>
<path d="M124.25 287.94H144.65" stroke="#000" stroke-width="3"/>
<text x="119.6" y="301.54" text-anchor="end" font-size="38.3">40</text>
<path d="M124.25 230.69H144.65" stroke="#000" stroke-width="3"/>
<text x="119.6" y="244.28" text-anchor="end" font-size="38.3">60</text>
<path d="M124.25 173.43H144.65" stroke="#000" stroke-width="3"/>
<text x="119.6" y="187.03" text-anchor="end" font-size="38.3">80</text>
<text transform="translate(61.4 290.2) rotate(-90)" text-anchor="middle" font-size="37.5" letter-spacing="0.25">Contraction (%)</text>
<path d="M144.15 418.05H608" stroke="#000" stroke-width="3"/>
<path d="M191.6 418.05V438.05" stroke="#000" stroke-width="3"/>
<path d="M284.25 418.05V438.05" stroke="#000" stroke-width="3"/>
<path d="M376.9 418.05V438.05" stroke="#000" stroke-width="3"/>
<path d="M469.55 418.05V438.05" stroke="#000" stroke-width="3"/>
<path d="M562.2 418.05V438.05" stroke="#000" stroke-width="3"/>
<g transform="translate(-1.2 3.2)">
<rect x="161.95" y="457" width="17.4" height="2.9"/>
<path d="M195.8 444.6V471.55H192.8V449.9C191 451.5 188.5 453 186.1 453.8V451.3C189 449.8 191.3 447.5 193.2 444.6Z"/>
<text x="202.6" y="471.8" font-size="38.3">0</text>
<rect x="264.75" y="457" width="17.6" height="2.9"/>
<text x="284.25" y="471.8" font-size="38.3">9</text>
<rect x="357.4" y="457" width="17.6" height="2.9"/>
<text x="376.9" y="471.8" font-size="38.3">8</text>
<rect x="450.05" y="457" width="17.6" height="2.9"/>
<text x="469.55" y="471.8" font-size="38.3">7</text>
<rect x="542.7" y="457" width="17.6" height="2.9"/>
<text x="562.2" y="471.8" font-size="38.3">6</text>
<text x="376.2" y="511.2" text-anchor="middle" font-size="37.5" letter-spacing="0.25">Ang II [Log (mol/L)]</text>
</g>
</g>
<g transform="translate(0 1124)">
<path d="M192.75 400.2L285.4 398.8" stroke="#000" stroke-width="2.8"/>
<polyline points="192.75,402.6 285.4,402.6 378.05,386 470.7,309.5 563.35,275.5" fill="none" stroke="#000" stroke-width="2.8" stroke-linejoin="round"/>
<circle cx="192.75" cy="402.6" r="11.9" fill="#fff" stroke="#000" stroke-width="2.8"/>
<circle cx="285.4" cy="402.6" r="11.9" fill="#fff" stroke="#000" stroke-width="2.8"/>
<circle cx="378.05" cy="386" r="11.9" fill="#fff" stroke="#000" stroke-width="2.8"/>
<circle cx="470.7" cy="309.5" r="11.9" fill="#fff" stroke="#000" stroke-width="2.8"/>
<circle cx="563.35" cy="275.5" r="11.9" fill="#fff" stroke="#000" stroke-width="2.8"/>
<polyline points="192.75,402.6 285.4,400 378.05,317 470.7,260 563.35,226" fill="none" stroke="#000" stroke-width="2.8" stroke-linejoin="round"/>
<path d="M378.05 317V307.2 M368.15 307.2H387.95" stroke="#000" stroke-width="2.8" fill="none"/>
<path d="M470.7 260V252.8 M460.8 252.8H480.6" stroke="#000" stroke-width="2.8" fill="none"/>
<path d="M563.35 226V219.2 M553.45 219.2H573.25" stroke="#000" stroke-width="2.8" fill="none"/>
<path d="M192.75 390.7L204.65 414.5L180.85 414.5Z" fill="#fff" stroke="#000" stroke-width="2.8" stroke-linejoin="round"/>
<path d="M285.4 388.1L297.3 411.9L273.5 411.9Z" fill="#fff" stroke="#000" stroke-width="2.8" stroke-linejoin="round"/>
<path d="M378.05 305.1L389.95 328.9L366.15 328.9Z" fill="#fff" stroke="#000" stroke-width="2.8" stroke-linejoin="round"/>
<path d="M470.7 248.1L482.6 271.9L458.8 271.9Z" fill="#fff" stroke="#000" stroke-width="2.8" stroke-linejoin="round"/>
<path d="M563.35 214.1L575.25 237.9L551.45 237.9Z" fill="#fff" stroke="#000" stroke-width="2.8" stroke-linejoin="round"/>
<polyline points="192.75,401.8 285.4,401.8 378.05,396.4 470.7,360.5 563.35,341.5" fill="none" stroke="#000" stroke-width="2.8" stroke-linejoin="round"/>
<path d="M470.7 360.5V370.9 M460.8 370.9H480.6" stroke="#000" stroke-width="2.8" fill="none"/>
<path d="M563.35 341.5V330.4 M553.45 330.4H573.25" stroke="#000" stroke-width="2.8" fill="none"/>
<circle cx="192.75" cy="401.8" r="13.2"/>
<circle cx="285.4" cy="401.8" r="13.2"/>
<circle cx="378.05" cy="396.4" r="13.2"/>
<circle cx="470.7" cy="360.5" r="13.2"/>
<circle cx="563.35" cy="341.5" r="13.2"/>
<polyline points="192.75,401.6 285.4,401.6 378.05,380 470.7,336 563.35,306.4" fill="none" stroke="#000" stroke-width="2.8" stroke-linejoin="round"/>
<path d="M378.05 380V373.2 M368.15 373.2H387.95" stroke="#000" stroke-width="2.8" fill="none"/>
<path d="M470.7 336V323.4 M460.8 323.4H480.6" stroke="#000" stroke-width="2.8" fill="none"/>
<path d="M563.35 306.4V295.6 M553.45 295.6H573.25" stroke="#000" stroke-width="2.8" fill="none"/>
<path d="M192.75 389.7L204.65 413.5L180.85 413.5Z" fill="#000" stroke="#000" stroke-width="2.8" stroke-linejoin="round"/>
<path d="M285.4 389.7L297.3 413.5L273.5 413.5Z" fill="#000" stroke="#000" stroke-width="2.8" stroke-linejoin="round"/>
<path d="M378.05 368.1L389.95 391.9L366.15 391.9Z" fill="#000" stroke="#000" stroke-width="2.8" stroke-linejoin="round"/>
<path d="M470.7 324.1L482.6 347.9L458.8 347.9Z" fill="#000" stroke="#000" stroke-width="2.8" stroke-linejoin="round"/>
<path d="M563.35 294.5L575.25 318.3L551.45 318.3Z" fill="#000" stroke="#000" stroke-width="2.8" stroke-linejoin="round"/>
</g>
<g transform="translate(0.7 1124)">
<path d="M585.6 277.6H599.1 M599.1 277.6V344.6 M585.6 344.6H599.1" fill="none" stroke="#000" stroke-width="2.8"/>
<g transform="translate(610.8 319.4)"><path transform="rotate(0)" d="M0 -0.2C-0.5 -2.2 -1.4 -4.6 -1.4 -6.2A1.4 1.4 0 0 1 1.4 -6.2C1.4 -4.6 0.5 -2.2 0 -0.2Z"/><path transform="rotate(60)" d="M0 -0.2C-0.5 -2.2 -1.4 -4.6 -1.4 -6.2A1.4 1.4 0 0 1 1.4 -6.2C1.4 -4.6 0.5 -2.2 0 -0.2Z"/><path transform="rotate(120)" d="M0 -0.2C-0.5 -2.2 -1.4 -4.6 -1.4 -6.2A1.4 1.4 0 0 1 1.4 -6.2C1.4 -4.6 0.5 -2.2 0 -0.2Z"/><path transform="rotate(180)" d="M0 -0.2C-0.5 -2.2 -1.4 -4.6 -1.4 -6.2A1.4 1.4 0 0 1 1.4 -6.2C1.4 -4.6 0.5 -2.2 0 -0.2Z"/><path transform="rotate(240)" d="M0 -0.2C-0.5 -2.2 -1.4 -4.6 -1.4 -6.2A1.4 1.4 0 0 1 1.4 -6.2C1.4 -4.6 0.5 -2.2 0 -0.2Z"/><path transform="rotate(300)" d="M0 -0.2C-0.5 -2.2 -1.4 -4.6 -1.4 -6.2A1.4 1.4 0 0 1 1.4 -6.2C1.4 -4.6 0.5 -2.2 0 -0.2Z"/></g>
<path d="M612.6 226.4H625.6 M625.6 226.4V306.4 M612.6 306.4H625.6" fill="none" stroke="#000" stroke-width="2.8"/>
<g transform="translate(637.3 259)"><path d="M0 -0.3C-0.6 -2.5 -2.1 -5.2 -2.1 -7.0A2.1 2.1 0 0 1 2.1 -7.0C2.1 -5.2 0.6 -2.5 0 -0.3Z"/><path transform="rotate(90)" d="M0 -0.3C-0.5 -2.2 -1.8 -4.3 -1.8 -5.7A1.8 1.8 0 0 1 1.8 -5.7C1.8 -4.3 0.5 -2.2 0 -0.3Z"/><path transform="rotate(-90)" d="M0 -0.3C-0.5 -2.2 -1.8 -4.3 -1.8 -5.7A1.8 1.8 0 0 1 1.8 -5.7C1.8 -4.3 0.5 -2.2 0 -0.3Z"/><path d="M0 0.6C-1.2 2.2 -2.1 3.6 -2.0 5.2C-1.7 8.5 -0.4 17 0 24.5C0.4 17 1.7 8.5 2.0 5.2C2.1 3.6 1.2 2.2 0 0.6Z"/></g>
</g>
<text transform="translate(679.4 1178) scale(0.955 1)" font-weight="bold" font-size="44">(F)</text>
<path d="M815.3 1191.1H866.8" stroke="#000" stroke-width="3"/>
<circle cx="841.05" cy="1191.1" r="11.9" fill="#fff" stroke="#000" stroke-width="2.8"/>
<text x="879.5" y="1204.1" font-size="37.5" letter-spacing="0.1">Sham</text>
<path d="M815.3 1235.5H866.8" stroke="#000" stroke-width="3"/>
<path d="M841.05 1223.6L852.95 1247.4L829.15 1247.4Z" fill="#fff" stroke="#000" stroke-width="2.8" stroke-linejoin="round"/>
<text x="879.5" y="1248.5" font-size="37.5" letter-spacing="0.1">Banding</text>
<path d="M815.3 1279.9H866.8" stroke="#000" stroke-width="3"/>
<circle cx="841.05" cy="1279.9" r="13.2"/>
<text x="879.5" y="1292.9" font-size="37.5" letter-spacing="0.1">Sham + JAK</text>
<path d="M815.3 1324.3H866.8" stroke="#000" stroke-width="3"/>
<path d="M841.05 1312.4L852.95 1336.2L829.15 1336.2Z" fill="#000" stroke="#000" stroke-width="2.8" stroke-linejoin="round"/>
<text x="879.5" y="1337.3" font-size="37.5" letter-spacing="0.1">Banding + JAK</text>
<g transform="translate(638.55 1123.75)">
<path d="M144.65 173.43V402.45" stroke="#000" stroke-width="3"/>
<path d="M124.25 402.45H144.65" stroke="#000" stroke-width="3"/>
<text x="119.6" y="416.05" text-anchor="end" font-size="38.3">0</text>
<path d="M124.25 345.19H144.65" stroke="#000" stroke-width="3"/>
<text x="119.6" y="358.8" text-anchor="end" font-size="38.3">20</text>
<path d="M124.25 287.94H144.65" stroke="#000" stroke-width="3"/>
<text x="119.6" y="301.54" text-anchor="end" font-size="38.3">40</text>
<path d="M124.25 230.69H144.65" stroke="#000" stroke-width="3"/>
<text x="119.6" y="244.28" text-anchor="end" font-size="38.3">60</text>
<path d="M124.25 173.43H144.65" stroke="#000" stroke-width="3"/>
<text x="119.6" y="187.03" text-anchor="end" font-size="38.3">80</text>
<text transform="translate(62.4 290.2) rotate(-90)" text-anchor="middle" font-size="37.5" letter-spacing="0.25">Contraction (%)</text>
<path d="M144.15 418.05H608" stroke="#000" stroke-width="3"/>
<path d="M191.6 418.05V438.05" stroke="#000" stroke-width="3"/>
<path d="M284.25 418.05V438.05" stroke="#000" stroke-width="3"/>
<path d="M376.9 418.05V438.05" stroke="#000" stroke-width="3"/>
<path d="M469.55 418.05V438.05" stroke="#000" stroke-width="3"/>
<path d="M562.2 418.05V438.05" stroke="#000" stroke-width="3"/>
<g transform="translate(-0.3 2.9)">
<rect x="161.95" y="457" width="17.4" height="2.9"/>
<path d="M195.8 444.6V471.55H192.8V449.9C191 451.5 188.5 453 186.1 453.8V451.3C189 449.8 191.3 447.5 193.2 444.6Z"/>
<text x="202.6" y="471.8" font-size="38.3">0</text>
<rect x="264.75" y="457" width="17.6" height="2.9"/>
<text x="284.25" y="471.8" font-size="38.3">9</text>
<rect x="357.4" y="457" width="17.6" height="2.9"/>
<text x="376.9" y="471.8" font-size="38.3">8</text>
<rect x="450.05" y="457" width="17.6" height="2.9"/>
<text x="469.55" y="471.8" font-size="38.3">7</text>
<rect x="542.7" y="457" width="17.6" height="2.9"/>
<text x="562.2" y="471.8" font-size="38.3">6</text>
<text x="376.2" y="511.2" text-anchor="middle" font-size="37.5" letter-spacing="0.25">Ang II [Log (mol/L)]</text>
</g>
</g>
<g transform="translate(0 1124)">
<path d="M830.15 400.2L922.8 399.1" stroke="#000" stroke-width="2.8"/>
<polyline points="830.15,402.6 922.8,402.6 1015.45,384.8 1108.1,309.5 1200.75,277.8" fill="none" stroke="#000" stroke-width="2.8" stroke-linejoin="round"/>
<circle cx="830.15" cy="402.6" r="11.9" fill="#fff" stroke="#000" stroke-width="2.8"/>
<circle cx="922.8" cy="402.6" r="11.9" fill="#fff" stroke="#000" stroke-width="2.8"/>
<circle cx="1015.45" cy="384.8" r="11.9" fill="#fff" stroke="#000" stroke-width="2.8"/>
<circle cx="1108.1" cy="309.5" r="11.9" fill="#fff" stroke="#000" stroke-width="2.8"/>
<circle cx="1200.75" cy="277.8" r="11.9" fill="#fff" stroke="#000" stroke-width="2.8"/>
<polyline points="830.15,402.6 922.8,400 1015.45,317.3 1108.1,259.7 1200.75,226.5" fill="none" stroke="#000" stroke-width="2.8" stroke-linejoin="round"/>
<path d="M1015.45 317.3V307.7 M1005.55 307.7H1025.35" stroke="#000" stroke-width="2.8" fill="none"/>
<path d="M1108.1 259.7V252.8 M1098.2 252.8H1118" stroke="#000" stroke-width="2.8" fill="none"/>
<path d="M1200.75 226.5V219.2 M1190.85 219.2H1210.65" stroke="#000" stroke-width="2.8" fill="none"/>
<path d="M830.15 390.7L842.05 414.5L818.25 414.5Z" fill="#fff" stroke="#000" stroke-width="2.8" stroke-linejoin="round"/>
<path d="M922.8 388.1L934.7 411.9L910.9 411.9Z" fill="#fff" stroke="#000" stroke-width="2.8" stroke-linejoin="round"/>
<path d="M1015.45 305.4L1027.35 329.2L1003.55 329.2Z" fill="#fff" stroke="#000" stroke-width="2.8" stroke-linejoin="round"/>
<path d="M1108.1 247.8L1120 271.6L1096.2 271.6Z" fill="#fff" stroke="#000" stroke-width="2.8" stroke-linejoin="round"/>
<path d="M1200.75 214.6L1212.65 238.4L1188.85 238.4Z" fill="#fff" stroke="#000" stroke-width="2.8" stroke-linejoin="round"/>
<polyline points="830.15,402.8 922.8,402.8 1015.45,381.3 1108.1,314.1 1200.75,280.3" fill="none" stroke="#000" stroke-width="2.8" stroke-linejoin="round"/>
<path d="M1200.75 280.3V261 M1190.85 261H1210.65" stroke="#000" stroke-width="2.8" fill="none"/>
<path d="M1200.75 280.3V296.1 M1190.85 296.1H1210.65" stroke="#000" stroke-width="2.8" fill="none"/>
<circle cx="830.15" cy="402.8" r="13.2"/>
<circle cx="922.8" cy="402.8" r="13.2"/>
<circle cx="1015.45" cy="381.3" r="13.2"/>
<circle cx="1108.1" cy="314.1" r="13.2"/>
<circle cx="1200.75" cy="280.3" r="13.2"/>
<polyline points="830.15,402.1 922.8,402.1 1015.45,347.5 1108.1,297.7 1200.75,275.5" fill="none" stroke="#000" stroke-width="2.8" stroke-linejoin="round"/>
<path d="M1015.45 347.5V336.6 M1005.55 336.6H1025.35" stroke="#000" stroke-width="2.8" fill="none"/>
<path d="M1108.1 297.7V283.6 M1098.2 283.6H1118" stroke="#000" stroke-width="2.8" fill="none"/>
<path d="M1200.75 275.5V263.4 M1190.85 263.4H1210.65" stroke="#000" stroke-width="2.8" fill="none"/>
<path d="M830.15 390.2L842.05 414L818.25 414Z" fill="#000" stroke="#000" stroke-width="2.8" stroke-linejoin="round"/>
<path d="M922.8 390.2L934.7 414L910.9 414Z" fill="#000" stroke="#000" stroke-width="2.8" stroke-linejoin="round"/>
<path d="M1015.45 335.6L1027.35 359.4L1003.55 359.4Z" fill="#000" stroke="#000" stroke-width="2.8" stroke-linejoin="round"/>
<path d="M1108.1 285.8L1120 309.6L1096.2 309.6Z" fill="#000" stroke="#000" stroke-width="2.8" stroke-linejoin="round"/>
<path d="M1200.75 263.6L1212.65 287.4L1188.85 287.4Z" fill="#000" stroke="#000" stroke-width="2.8" stroke-linejoin="round"/>
</g>
<g transform="translate(638.4 1124)">
<path d="M589.5 225.5H602.6 M602.6 225.5V279.3 M589.5 279.3H602.6" fill="none" stroke="#000" stroke-width="2.8"/>
<g transform="translate(614.2 245.3)"><path d="M0 -0.3C-0.6 -2.5 -2.1 -5.2 -2.1 -7.0A2.1 2.1 0 0 1 2.1 -7.0C2.1 -5.2 0.6 -2.5 0 -0.3Z"/><path transform="rotate(90)" d="M0 -0.3C-0.5 -2.2 -1.8 -4.3 -1.8 -5.7A1.8 1.8 0 0 1 1.8 -5.7C1.8 -4.3 0.5 -2.2 0 -0.3Z"/><path transform="rotate(-90)" d="M0 -0.3C-0.5 -2.2 -1.8 -4.3 -1.8 -5.7A1.8 1.8 0 0 1 1.8 -5.7C1.8 -4.3 0.5 -2.2 0 -0.3Z"/><path d="M0 0.6C-1.2 2.2 -2.1 3.6 -2.0 5.2C-1.7 8.5 -0.4 17 0 24.5C0.4 17 1.7 8.5 2.0 5.2C2.1 3.6 1.2 2.2 0 0.6Z"/></g>
</g>
</svg>
</body></html>
